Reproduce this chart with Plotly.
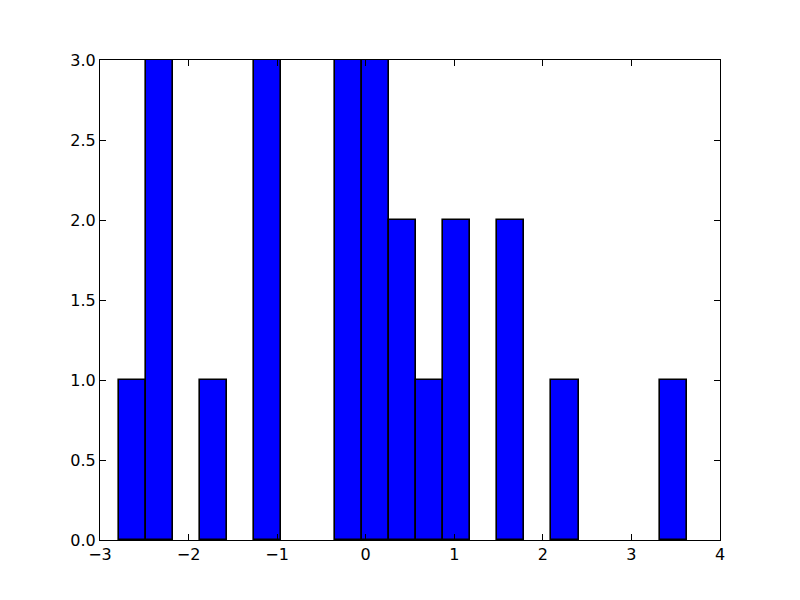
import plotly.graph_objects as go

# Histogram data
bin_start = -2.791
bin_width = 0.3055
counts = [1, 3, 0, 1, 0, 3, 0, 0, 3, 3, 2, 1, 2, 0, 2, 0, 1, 0, 0, 0, 1]
x_ticks = [-3, -2, -1, 0, 1, 2, 3, 4]
y_ticks = [0.0, 0.5, 1.0, 1.5, 2.0, 2.5, 3.0]

centers = [bin_start + bin_width * (i + 0.5) for i in range(len(counts))]
bx = [c for c, n in zip(centers, counts) if n > 0]
by = [n for n in counts if n > 0]

fig = go.Figure(
    go.Bar(
        x=bx,
        y=by,
        width=[bin_width] * len(bx),
        marker=dict(color="#0000ff", line=dict(color="black", width=1.6)),
    )
)

axis_common = dict(
    showgrid=False,
    zeroline=False,
    showline=True,
    linecolor="black",
    linewidth=1,
    mirror="ticks",
    ticks="inside",
    ticklen=6,
    tickcolor="black",
    tickfont=dict(family="DejaVu Sans", size=16, color="black"),
)

fig.update_layout(
    width=800,
    height=600,
    margin=dict(l=92, r=88, t=52, b=68),
    paper_bgcolor="white",
    plot_bgcolor="white",
    showlegend=False,
    bargap=0,
    xaxis=dict(range=[-3, 4], tickvals=x_ticks, **axis_common),
    yaxis=dict(range=[0, 3], tickvals=y_ticks, tickformat=".1f", **axis_common),
)

fig.write_html("out.html")
